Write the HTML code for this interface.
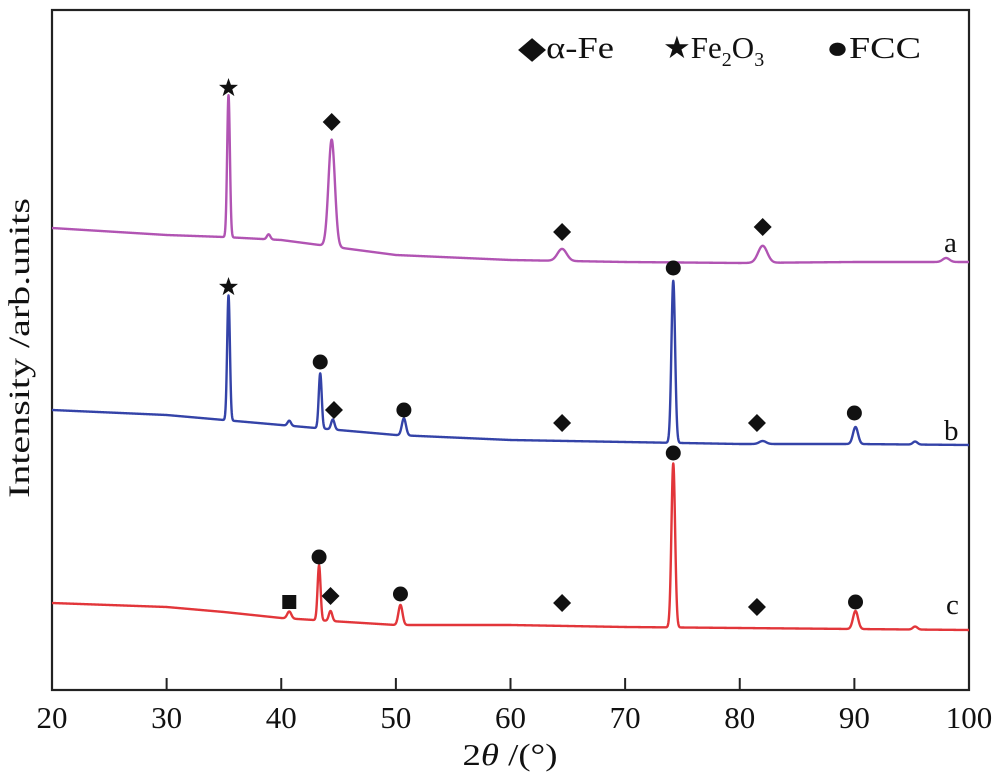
<!DOCTYPE html>
<html><head><meta charset="utf-8"><style>
html,body{margin:0;padding:0;background:#fff;}
svg text{font-family:"Liberation Serif",serif;fill:#111;}
</style></head><body>
<svg id="chart" width="1000" height="779" viewBox="0 0 1000 779" xmlns="http://www.w3.org/2000/svg">
<g id="axes"></g>
<g id="series"></g>
<g id="marks"></g>
<g id="legend">
  <text x="518" y="58" font-size="31" textLength="96" lengthAdjust="spacingAndGlyphs">◆α-Fe</text>
  <text x="663" y="58" font-size="31">★Fe<tspan font-size="20" dy="8">2</tspan><tspan dy="-8">O</tspan><tspan font-size="20" dy="8">3</tspan></text>
  <text x="826" y="58" font-size="31" textLength="95" lengthAdjust="spacingAndGlyphs">●FCC</text>
</g>
<text transform="translate(29,348) rotate(-90)" text-anchor="middle" font-size="30" textLength="300" lengthAdjust="spacingAndGlyphs">Intensity /arb.units</text>
<text x="510" y="765" text-anchor="middle" font-size="31" textLength="95" lengthAdjust="spacingAndGlyphs">2<tspan font-style="italic">θ</tspan> /(°)</text>
<text x="944" y="252" font-size="29">a</text>
<text x="944" y="440" font-size="29">b</text>
<text x="946" y="614" font-size="29">c</text>
</svg>
<script>
const xTicks=[20,30,40,50,60,70,80,90,100];
const baseX=[20,30,35,40,50,60,70,80,90,100];
const baseA=[228,235,237,240,255,260,262,263,262,262];
const baseB=[410,415,420,425,435,440,442,444,444,445];
const baseC=[603,607,612,618,625,625,627,628,629,630];
const peakPosA=[35.4,38.9,44.4,64.5,82.0,98.0];
const peakHA=[142,5,107,12,17,4];
const peakWA=[0.12,0.15,0.28,0.4,0.4,0.3];
const peakPosB=[35.4,40.7,43.4,44.5,50.7,74.2,82.0,90.1,95.3];
const peakHB=[125,5,55,10,17,162,3,17,3];
const peakWB=[0.12,0.15,0.13,0.15,0.18,0.16,0.3,0.22,0.2];
const peakPosC=[40.7,43.3,44.3,50.4,74.2,90.1,95.3];
const peakHC=[7,55,10,20,164,18,3];
const peakWC=[0.18,0.13,0.15,0.18,0.16,0.22,0.2];
const markType=['star','diamond','diamond','diamond','star','circle','diamond','circle','diamond','circle','diamond','circle','square','circle','diamond','circle','diamond','circle','diamond','circle'];
const markX=[35.4,44.4,64.5,82.0,35.4,43.4,44.6,50.7,64.5,74.2,81.5,90.0,40.7,43.3,44.3,50.4,64.5,74.2,81.5,90.1];
const markY=[88,122,232,227,287,362,410,410,423,268,423,413,602,557,596,594,603,453,607,602];

const L=52,R=969,T=10,B=690;
const NS='http://www.w3.org/2000/svg';
function sx(v){return L+(v-20)/80*(R-L);}
function mk(tag,attrs,parent){const e=document.createElementNS(NS,tag);for(const k in attrs)e.setAttribute(k,attrs[k]);parent.appendChild(e);return e;}
const axes=document.getElementById('axes');
const frame=mk('rect',{x:L,y:T,width:R-L,height:B-T,fill:'none',stroke:'#222','stroke-width':2.2},axes);


xTicks.forEach(t=>{
  const ln=mk('line',{x1:sx(t),x2:sx(t),y1:B,y2:B-12,stroke:'#222','stroke-width':2},axes);
  
  
  const tx=mk('text',{x:sx(t),y:728,'text-anchor':'middle','font-size':31},axes);
  tx.textContent=t;
  
  
});
function interp(xs,ys,x){for(let i=0;i<xs.length-1;i++){if(x<=xs[i+1]){const f=(x-xs[i])/(xs[i+1]-xs[i]);return ys[i]+f*(ys[i+1]-ys[i]);}}return ys[ys.length-1];}
function path(base,pp,ph,pw){
  let d='';
  for(let x=20;x<=100.0001;x+=0.02){
    let y=interp(baseX,base,x);
    for(let i=0;i<pp.length;i++){const z=(x-pp[i])/pw[i];y-=ph[i]*Math.exp(-0.5*z*z);}
    d+=(d?'L':'M')+sx(x).toFixed(2)+','+y.toFixed(2);
  }
  return d;
}
const sg=document.getElementById('series');
[['a',baseA,peakPosA,peakHA,peakWA,'#b154b3'],['b',baseB,peakPosB,peakHB,peakWB,'#3443a8'],['c',baseC,peakPosC,peakHC,peakWC,'#e2363a']].forEach(s=>{
  const p=mk('path',{d:path(s[1],s[2],s[3],s[4]),fill:'none',stroke:s[5],'stroke-width':2.4,'stroke-linejoin':'round'},sg);
  
  
});
const mg=document.getElementById('marks');
markType.forEach((t,i)=>{
  const x=sx(markX[i]),y=markY[i];let e;
  if(t==='circle')e=mk('circle',{cx:x,cy:y,r:7.5,fill:'#111'},mg);
  else if(t==='square')e=mk('rect',{x:x-7,y:y-7,width:14,height:14,fill:'#111'},mg);
  else if(t==='diamond')e=mk('polygon',{points:`${x},${y-9} ${x+9},${y} ${x},${y+9} ${x-9},${y}`,fill:'#111'},mg);
  else{let pts=[];for(let k=0;k<10;k++){const r=k%2?4:10,a=-Math.PI/2+k*Math.PI/5;pts.push((x+r*Math.cos(a)).toFixed(1)+','+(y+r*Math.sin(a)).toFixed(1));}e=mk('polygon',{points:pts.join(' '),fill:'#111'},mg);}
  
  
});
</script>
</body></html>
